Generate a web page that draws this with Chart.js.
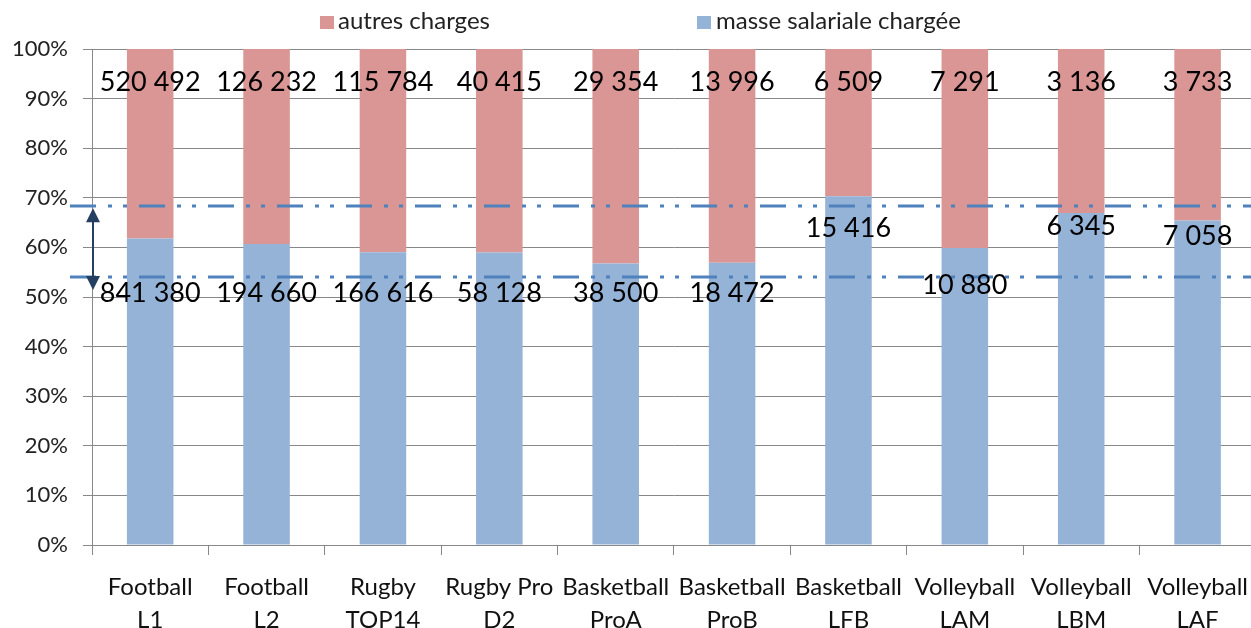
<!DOCTYPE html>
<html lang="fr">
<head>
<meta charset="utf-8">
<title>Masse salariale chargée / autres charges</title>
<script src="https://cdn.jsdelivr.net/npm/chart.js@4.4.0/dist/chart.umd.min.js"></script>
<style>
    html, body { margin: 0; padding: 0; background: #fff; overflow: hidden; }
    #wrap { width: 1264px; height: 628px; }
</style>
</head>
<body>
<div id="wrap"><canvas id="chart" width="1264" height="628"></canvas></div>
<script>
// --- data ---
const categories = [
    ['Football', 'L1'], ['Football', 'L2'], ['Rugby', 'TOP14'], ['Rugby Pro', 'D2'],
    ['Basketball', 'ProA'], ['Basketball', 'ProB'], ['Basketball', 'LFB'],
    ['Volleyball', 'LAM'], ['Volleyball', 'LBM'], ['Volleyball', 'LAF']
];
const masseSalariale = [841380, 194660, 166616, 58128, 38500, 18472, 15416, 10880, 6345, 7058];
const autresCharges = [520492, 126232, 115784, 40415, 29354, 13996, 6509, 7291, 3136, 3733];
const yTickStep = 10;          // 0% .. 100%
const refLevels = [68.3, 54.0]; // dash-dot reference lines (%)

// 100% stacked shares
const masseShare = masseSalariale.map((m, i) => m / (m + autresCharges[i]) * 100);
const autresShare = autresCharges.map((a, i) => a / (masseSalariale[i] + a) * 100);

const FONT = 'Lato, "Open Sans", sans-serif';
const BLUE = '#95b3d7';
const RED = '#d99694';

function fmt(n) {
    return String(n).replace(/\B(?=(\d{3})+(?!\d))/g, ' ');
}

/**
 * Draws the reference lines, the arrow, the value labels and the legend
 */
const overlay = {
    id: 'overlay',
    afterDatasetsDraw(chart, args, opts) {
        const { ctx, chartArea, scales: { y } } = chart;
        ctx.save();

        // dash-dot reference lines
        ctx.strokeStyle = '#4f81bd';
        ctx.lineWidth = 3;
        ctx.setLineDash([26, 12, 4, 11, 4, 12]);
        refLevels.forEach(v => {
            const py = Math.round(y.getPixelForValue(v));
            ctx.beginPath();
            ctx.moveTo(70, py);
            ctx.lineTo(chart.width, py);
            ctx.stroke();
        });
        ctx.setLineDash([]);

        // double arrow between the two levels
        const ax = chartArea.left + 1;
        const top = y.getPixelForValue(refLevels[0]) + 2;
        const bottom = y.getPixelForValue(opts.arrowEnd);
        ctx.strokeStyle = '#243f60';
        ctx.fillStyle = '#243f60';
        ctx.lineWidth = 2;
        ctx.beginPath();
        ctx.moveTo(ax, top + 10);
        ctx.lineTo(ax, bottom - 10);
        ctx.stroke();
        ctx.beginPath();
        ctx.moveTo(ax, top);
        ctx.lineTo(ax - 7, top + 14);
        ctx.lineTo(ax + 7, top + 14);
        ctx.closePath();
        ctx.fill();
        ctx.beginPath();
        ctx.moveTo(ax, bottom);
        ctx.lineTo(ax - 7, bottom - 14);
        ctx.lineTo(ax + 7, bottom - 14);
        ctx.closePath();
        ctx.fill();

        // value labels
        ctx.font = '27px ' + FONT;
        ctx.fillStyle = '#000';
        ctx.textAlign = 'center';
        ctx.textBaseline = 'middle';
        chart.getDatasetMeta(0).data.forEach((bar, i) => {
            ctx.fillText(fmt(masseSalariale[i]), bar.x, y.getPixelForValue(opts.masseAt[i]));
            ctx.fillText(fmt(autresCharges[i]), bar.x, y.getPixelForValue(opts.autresAt));
        });

        // legend
        ctx.font = '24px ' + FONT;
        ctx.textAlign = 'left';
        ctx.textBaseline = 'alphabetic';
        ctx.fillStyle = RED;
        ctx.fillRect(320, 16, 14, 13);
        ctx.fillStyle = BLUE;
        ctx.fillRect(697, 16, 14, 13);
        ctx.fillStyle = '#222';
        ctx.fillText('autres charges', 338, 29);
        ctx.fillText('masse salariale chargée', 716, 29);

        ctx.restore();
    }
};

new Chart(document.getElementById('chart'), {
    type: 'bar',
    data: {
        labels: categories,
        datasets: [
            {
                label: 'masse salariale chargée',
                data: masseShare,
                backgroundColor: BLUE,
                barPercentage: 0.4,
                categoryPercentage: 1
            },
            {
                label: 'autres charges',
                data: autresShare,
                backgroundColor: RED,
                barPercentage: 0.4,
                categoryPercentage: 1
            }
        ]
    },
    options: {
        responsive: false,
        animation: false,
        layout: { padding: { top: 49, left: 0, right: 0, bottom: 0 } },
        plugins: {
            legend: { display: false },
            tooltip: { enabled: false },
            overlay: {
                autresAt: 93.3,
                masseAt: [50.8, 50.8, 50.8, 50.8, 50.8, 50.8, 63.9, 52.4, 64.3, 62.3],
                arrowEnd: 51.4
            }
        },
        scales: {
            x: {
                stacked: true,
                grid: { drawOnChartArea: false, tickLength: 10, color: '#888', offset: true },
                border: { color: '#888' },
                ticks: {
                    font: { family: FONT, size: 24, lineHeight: 1.38 },
                    color: '#111',
                    padding: 16,
                    maxRotation: 0,
                    minRotation: 0,
                    autoSkip: false
                },
                afterFit: s => { s.height = 83; }
            },
            y: {
                stacked: true,
                min: 0,
                max: 100,
                grid: { color: '#888', tickLength: 9 },
                border: { color: '#888' },
                ticks: {
                    stepSize: yTickStep,
                    callback: v => v + '%',
                    font: { family: FONT, size: 22 },
                    color: '#222',
                    padding: 15
                },
                afterFit: s => { s.width = 92; }
            }
        }
    },
    plugins: [overlay]
});
</script>
</body>
</html>
